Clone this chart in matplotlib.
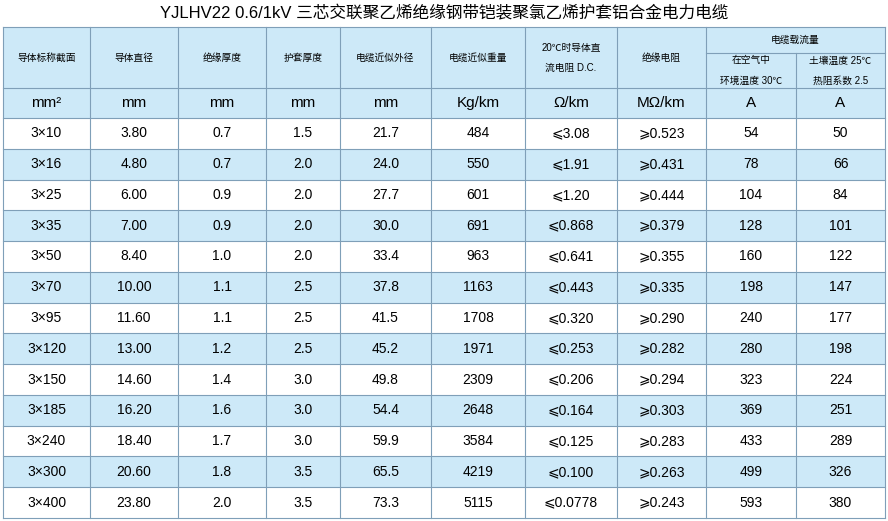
import matplotlib.pyplot as plt
from matplotlib.patches import Rectangle

plt.rcParams['font.family'] = ['Liberation Sans', 'Noto Sans CJK SC', 'DejaVu Sans']

title = "YJLHV22 0.6/1kV 三芯交联聚乙烯绝缘钢带铠装聚氯乙烯护套铝合金电力电缆"
headers = ["导体标称截面", "导体直径", "绝缘厚度", "护套厚度", "电缆近似外径", "电缆近似重量",
           "20℃时导体直\n\n流电阻 D.C.", "绝缘电阻"]
group_header = "电缆载流量"
sub_headers = ["在空气中\n\n环境温度 30℃", "土壤温度 25℃\n\n热阻系数 2.5"]
units = ["mm²", "mm", "mm", "mm", "mm", "Kg/km", "Ω/km", "MΩ/km", "A", "A"]

section = ["3×10", "3×16", "3×25", "3×35", "3×50", "3×70", "3×95", "3×120",
           "3×150", "3×185", "3×240", "3×300", "3×400"]
diameter = ["3.80", "4.80", "6.00", "7.00", "8.40", "10.00", "11.60", "13.00",
            "14.60", "16.20", "18.40", "20.60", "23.80"]
insul = ["0.7", "0.7", "0.9", "0.9", "1.0", "1.1", "1.1", "1.2", "1.4", "1.6", "1.7", "1.8", "2.0"]
sheath = ["1.5", "2.0", "2.0", "2.0", "2.0", "2.5", "2.5", "2.5", "3.0", "3.0", "3.0", "3.5", "3.5"]
outer = ["21.7", "24.0", "27.7", "30.0", "33.4", "37.8", "41.5", "45.2", "49.8", "54.4", "59.9", "65.5", "73.3"]
weight = ["484", "550", "601", "691", "963", "1163", "1708", "1971", "2309", "2648", "3584", "4219", "5115"]
resist = ["3.08", "1.91", "1.20", "0.868", "0.641", "0.443", "0.320", "0.253", "0.206",
          "0.164", "0.125", "0.100", "0.0778"]
ins_res = ["0.523", "0.431", "0.444", "0.379", "0.355", "0.335", "0.290", "0.282", "0.294",
           "0.303", "0.283", "0.263", "0.243"]
amp_air = ["54", "78", "104", "128", "160", "198", "240", "280", "323", "369", "433", "499", "593"]
amp_soil = ["50", "66", "84", "101", "122", "147", "177", "198", "224", "251", "289", "326", "380"]

cols = [3, 90, 178, 266, 340, 431, 525, 617, 706, 796, 885]
top, mid, unit_top, data_top, bottom = 27, 53, 88, 118, 518
row_h = (bottom - data_top) / len(section)

blue = "#cde9f8"
line = "#7f9fb8"

fig = plt.figure(figsize=(8.88, 5.21), dpi=100)
ax = fig.add_axes([0, 0, 1, 1])
ax.set_xlim(0, 888)
ax.set_ylim(521, 0)
ax.axis('off')

ax.text(444, 13, title, ha='center', va='center', fontsize=12)

# header backgrounds
ax.add_patch(Rectangle((cols[0], top), cols[-1] - cols[0], data_top - top, color=blue, lw=0))
rows = list(zip(section, diameter, insul, sheath, outer, weight,
                ["⩽" + r for r in resist], ["⩾" + r for r in ins_res], amp_air, amp_soil))
for i, r in enumerate(rows):
    y0 = data_top + i * row_h
    if i % 2 == 1:
        ax.add_patch(Rectangle((cols[0], y0), cols[-1] - cols[0], row_h, color=blue, lw=0))
    for j, v in enumerate(r):
        ax.text((cols[j] + cols[j + 1]) / 2, y0 + row_h / 2, v, ha='center', va='center', fontsize=10)

for j, h in enumerate(headers):
    ax.text((cols[j] + cols[j + 1]) / 2, (top + unit_top) / 2, h, ha='center', va='center',
            fontsize=7, linespacing=1.0)
ax.text((cols[8] + cols[10]) / 2, (top + mid) / 2, group_header, ha='center', va='center', fontsize=7)
for k, h in enumerate(sub_headers):
    ax.text((cols[8 + k] + cols[9 + k]) / 2, (mid + unit_top) / 2, h, ha='center', va='center',
            fontsize=7, linespacing=1.0)
for j, u in enumerate(units):
    ax.text((cols[j] + cols[j + 1]) / 2, (unit_top + data_top) / 2, u, ha='center', va='center', fontsize=11)

# grid lines
for x in cols:
    y_start = mid if x == cols[9] else top
    ax.plot([x, x], [y_start, bottom], color=line, lw=0.8)
ax.plot([cols[8], cols[10]], [mid, mid], color=line, lw=0.8)
for y in [top, unit_top] + [data_top + i * row_h for i in range(len(section) + 1)]:
    ax.plot([cols[0], cols[-1]], [y, y], color=line, lw=0.8)

fig.savefig("out.png", dpi=100)
